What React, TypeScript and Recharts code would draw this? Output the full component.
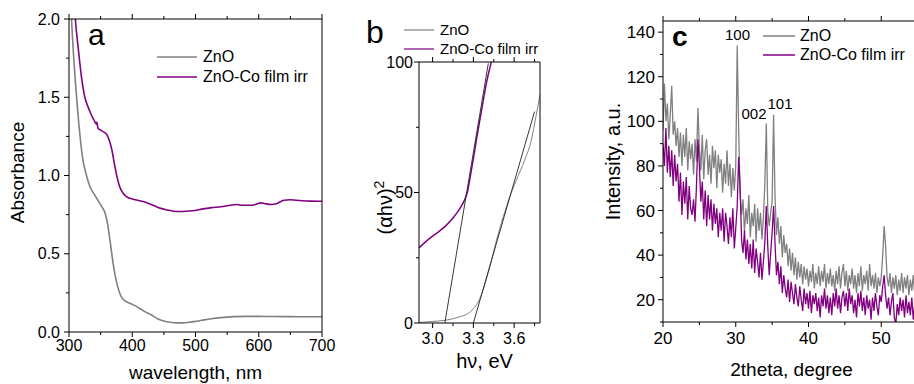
import { Label, Legend, Line, LineChart, ReferenceDot, XAxis, YAxis } from "recharts";

const GREY = "#808080";
const PURPLE = "#800080";
const FONT = '"Liberation Sans", Arial, sans-serif';

// (a) absorbance spectra
const WL_ZNO = [301, 304, 308, 312, 317, 322, 327, 333, 340, 346, 352, 357, 361, 365, 369, 373, 377, 382, 388, 395, 401, 410, 420, 430, 440, 450, 460, 470, 480, 490, 500, 510, 525, 540, 560, 580, 600, 620, 650, 680, 700];
const ABS_ZNO = [2.3, 2.0, 1.72, 1.5, 1.27, 1.1, 1.01, 0.93, 0.88, 0.84, 0.8, 0.76, 0.69, 0.58, 0.46, 0.36, 0.29, 0.23, 0.2, 0.185, 0.175, 0.155, 0.13, 0.11, 0.085, 0.07, 0.062, 0.058, 0.058, 0.062, 0.068, 0.075, 0.085, 0.092, 0.098, 0.1, 0.1, 0.099, 0.098, 0.097, 0.097];
const WL_CO = [307, 310, 315, 320, 325, 330, 335, 340, 343, 344, 346, 350, 356, 360, 364, 368, 372, 376, 380, 385, 391, 400, 410, 420, 433, 445, 455, 465, 480, 495, 510, 525, 540, 555, 565, 570, 580, 590, 597, 603, 610, 620, 628, 640, 650, 665, 680, 700];
const ABS_CO = [2.2, 2.0, 1.8, 1.62, 1.5, 1.44, 1.39, 1.35, 1.33, 1.34, 1.3, 1.29, 1.275, 1.26, 1.22, 1.16, 1.07, 0.99, 0.93, 0.89, 0.865, 0.85, 0.84, 0.83, 0.81, 0.79, 0.78, 0.772, 0.77, 0.775, 0.785, 0.795, 0.8, 0.81, 0.815, 0.812, 0.81, 0.81, 0.818, 0.825, 0.82, 0.815, 0.82, 0.842, 0.845, 0.84, 0.836, 0.835];

// (b) Tauc plot
const E_ZNO = [2.9, 3.0, 3.09, 3.2, 3.26, 3.3, 3.335, 3.37, 3.42, 3.47, 3.52, 3.567, 3.616, 3.677, 3.726, 3.76, 3.79];
const TAUC_ZNO = [0.2, 0.6, 1.0, 2.4, 3.6, 5.5, 8.0, 12.5, 21.5, 31.7, 40.7, 48.3, 54.7, 62.4, 70, 79, 87.5];
const E_CO = [2.9, 2.95, 3.0, 3.05, 3.1, 3.15, 3.2, 3.23, 3.255, 3.275, 3.3, 3.325, 3.35, 3.375, 3.4, 3.425, 3.45];
const TAUC_CO = [28.8, 31.2, 33.3, 35.2, 37.4, 40.2, 43.8, 46.6, 50, 55.5, 63, 71, 78.5, 86, 93, 98.5, 104];
const FIT_ZNO_E = [3.3, 3.75];
const FIT_ZNO_V = [0, 81];
const FIT_CO_E = [3.09, 3.41];
const FIT_CO_V = [0, 99.5];

// (c) XRD
const TWO_THETA = [
  20.0, 20.2, 20.4, 20.6, 20.8, 21.0, 21.2, 21.4, 21.6, 21.8,
  22.0, 22.2, 22.4, 22.6, 22.8, 23.0, 23.2, 23.4, 23.6, 23.8,
  24.0, 24.2, 24.4, 24.6, 24.8, 25.0, 25.2, 25.4, 25.6, 25.8,
  26.0, 26.2, 26.4, 26.6, 26.8, 27.0, 27.2, 27.4, 27.6, 27.8,
  28.0, 28.2, 28.4, 28.6, 28.8, 29.0, 29.2, 29.4, 29.6, 29.8,
  30.0, 30.2, 30.4, 30.6, 30.8, 31.0, 31.2, 31.4, 31.6, 31.8,
  32.0, 32.2, 32.4, 32.6, 32.8, 33.0, 33.2, 33.4, 33.6, 33.8,
  34.0, 34.2, 34.4, 34.6, 34.8, 35.0, 35.2, 35.4, 35.6, 35.8,
  36.0, 36.2, 36.4, 36.6, 36.8, 37.0, 37.2, 37.4, 37.6, 37.8,
  38.0, 38.2, 38.4, 38.6, 38.8, 39.0, 39.2, 39.4, 39.6, 39.8,
  40.0, 40.2, 40.4, 40.6, 40.8, 41.0, 41.2, 41.4, 41.6, 41.8,
  42.0, 42.2, 42.4, 42.6, 42.8, 43.0, 43.2, 43.4, 43.6, 43.8,
  44.0, 44.2, 44.4, 44.6, 44.8, 45.0, 45.2, 45.4, 45.6, 45.8,
  46.0, 46.2, 46.4, 46.6, 46.8, 47.0, 47.2, 47.4, 47.6, 47.8,
  48.0, 48.2, 48.4, 48.6, 48.8, 49.0, 49.2, 49.4, 49.6, 49.8,
  50.0, 50.2, 50.4, 50.6, 50.8, 51.0, 51.2, 51.4, 51.6, 51.8,
  52.0, 52.2, 52.4, 52.6, 52.8, 53.0, 53.2, 53.4, 53.6, 53.8,
  54.0, 54.2, 54.4, 54.6, 54.8, 55.0,
];
const XRD_ZNO = [
  96, 117, 100, 108, 92, 103, 116, 94, 100, 89,
  97, 84, 95, 80, 94, 84, 97, 78, 91, 83,
  90, 76, 92, 82, 106, 88, 78, 94, 74, 87,
  92, 76, 85, 72, 89, 79, 87, 70, 85, 77,
  83, 68, 81, 72, 87, 71, 81, 66, 79, 69,
  80, 134, 96, 68, 58, 65, 50, 61, 54, 67,
  48, 59, 53, 63, 46, 61, 51, 59, 47, 57,
  72, 99, 60, 53, 59, 64, 103, 66, 49, 57,
  45, 53, 39, 49, 41, 45, 35, 43, 33, 41,
  31, 39, 29, 37, 30, 36, 27, 35, 29, 34,
  26, 33, 28, 36, 25, 32, 27, 35, 26, 33,
  28, 36, 25, 32, 27, 34, 26, 31, 24, 33,
  27, 35, 25, 32, 36, 26, 33, 24, 31, 27,
  34, 25, 31, 23, 32, 26, 35, 24, 31, 27,
  33, 24, 36, 26, 31, 25, 32, 23, 30, 26,
  30, 40, 53, 44, 30, 26, 32, 23, 30, 25,
  31, 22, 29, 24, 32, 23, 30, 25, 31, 22,
  29, 24, 31, 23, 30, 26,
];
const XRD_CO = [
  90, 80, 97, 77, 89, 75, 87, 71, 85, 73,
  81, 64, 77, 58, 73, 63, 75, 56, 71, 61,
  58, 65, 55, 71, 92, 80, 64, 73, 56, 69,
  53, 67, 56, 65, 51, 63, 54, 61, 48, 59,
  51, 61, 46, 59, 53, 45, 57, 48, 61, 43,
  52, 62, 84, 70, 47, 41, 51, 38, 47, 36,
  45, 34, 47, 32, 43, 37, 30, 41, 29, 37,
  46, 62, 44, 31, 41, 50, 62, 45, 31, 37,
  27, 35, 23, 31, 25, 21, 29, 19, 28, 23,
  18, 27, 21, 17, 26, 20, 15, 25, 18, 23,
  16, 24, 14, 22, 18, 23, 15, 21, 12, 22,
  17, 25, 16, 22, 14, 21, 13, 23, 17, 25,
  16, 22, 14, 21, 24, 17, 23, 15, 25, 18,
  22, 14, 20, 12, 23, 17, 24, 15, 21, 13,
  22, 16, 20, 11, 21, 15, 23, 17, 13, 22,
  19, 26, 31, 22, 16, 21, 13, 19, 23, 12,
  9, 18, 13, 21, 15, 20, 12, 22, 14, 19,
  13, 21, 11, 18, 20, 16,
];

const pairs = (xs: number[], ys: number[]) => xs.map((x, i) => ({ x, y: ys[i] }));
const xrdRows = TWO_THETA.map((theta, i) => ({ theta, zno: XRD_ZNO[i], co: XRD_CO[i] }));

const TICK_SIZE = 5;
const MINOR_TICK = 3;

type Side = "bottom" | "top" | "left";

// draws major/minor tick marks itself so minor ones can be shorter
function axisTick(side: Side, majors: number[], margin: number, fontSize: number, digits = 0, labels = true) {
  return (props: any) => {
    const { x, y, payload } = props;
    const v = payload.value as number;
    const major = majors.some((m) => Math.abs(m - v) < 1e-6);
    const len = major ? TICK_SIZE : MINOR_TICK;
    const text = labels && major ? v.toFixed(digits) : null;
    if (side === "left") {
      const ax = x + TICK_SIZE + margin;
      return (
        <g>
          <line x1={ax} x2={ax - len} y1={y} y2={y} stroke="#000" />
          {text && (
            <text x={x} y={y} dy="0.355em" textAnchor="end" fontSize={fontSize} fill="#000">
              {text}
            </text>
          )}
        </g>
      );
    }
    if (side === "top") {
      const ay = y + TICK_SIZE + margin;
      return <line x1={x} x2={x} y1={ay} y2={ay - len} stroke="#000" />;
    }
    const ay = y - TICK_SIZE - margin;
    return (
      <g>
        <line x1={x} x2={x} y1={ay} y2={ay + len} stroke="#000" />
        {text && (
          <text x={x} y={y} dy="0.71em" textAnchor="middle" fontSize={fontSize} fill="#000">
            {text}
          </text>
        )}
      </g>
    );
  };
}

function legendRows(lineW: number, gap: number, rowH: number, fontSize: number, strokeW: number) {
  return (props: any) => (
    <div style={{ whiteSpace: "nowrap" }}>
      {(props.payload ?? [])
        .filter((p: any) => p.type !== "none")
        .map((p: any) => (
          <div key={p.value} style={{ display: "flex", alignItems: "center", height: rowH }}>
            <svg width={lineW} height={4} style={{ display: "block" }}>
              <line x1={0} x2={lineW} y1={2} y2={2} stroke={p.color} strokeWidth={strokeW} />
            </svg>
            <span style={{ marginLeft: gap, fontSize, lineHeight: `${rowH}px`, color: "#000" }}>{p.value}</span>
          </div>
        ))}
    </div>
  );
}

const WL_TICKS = [300, 350, 400, 450, 500, 550, 600, 650, 700];
const WL_MAJOR = [300, 400, 500, 600, 700];
const ABS_TICKS = [0, 0.25, 0.5, 0.75, 1, 1.25, 1.5, 1.75, 2];
const ABS_MAJOR = [0, 0.5, 1, 1.5, 2];

function PanelA() {
  return (
    <div style={{ position: "absolute", left: 0, top: 0 }}>
      <LineChart width={340} height={384} margin={{ top: 18, right: 17, bottom: 0, left: 0 }}>
        <XAxis xAxisId="b" type="number" dataKey="x" domain={[300, 700]} allowDataOverflow ticks={WL_TICKS} interval={0}
          height={52} stroke="#000" tickSize={TICK_SIZE} tickMargin={3} tickLine={false}
          tick={axisTick("bottom", WL_MAJOR, 3, 16)}>
          <Label value="wavelength, nm" position="insideBottom" offset={5} fontSize={19} fill="#000" />
        </XAxis>
        <XAxis xAxisId="t" orientation="top" type="number" dataKey="x" domain={[300, 700]} allowDataOverflow ticks={WL_TICKS}
          interval={0} height={1} stroke="#000" tickSize={TICK_SIZE} tickMargin={0} tickLine={false}
          tick={axisTick("top", WL_MAJOR, 0, 16, 0, false)} />
        <YAxis yAxisId="l" type="number" domain={[0, 2]} allowDataOverflow ticks={ABS_TICKS} interval={0} width={69}
          stroke="#000" tickSize={TICK_SIZE} tickMargin={4} tickLine={false} tick={axisTick("left", ABS_MAJOR, 4, 16, 1)}>
          <Label value="Absorbance" angle={-90} position="insideLeft" offset={17} dy={-3} fontSize={19} fill="#000"
            style={{ textAnchor: "middle" }} />
        </YAxis>
        <YAxis yAxisId="r" orientation="right" type="number" domain={[0, 2]} allowDataOverflow width={1} stroke="#000"
          tick={false} tickLine={false} />
        <Legend layout="vertical" align="center" verticalAlign="middle" content={legendRows(40, 6, 20, 16, 1.6)}
          wrapperStyle={{ left: 157, top: 47, width: "auto" }} />
        <Line xAxisId="b" yAxisId="l" name="ZnO" data={pairs(WL_ZNO, ABS_ZNO)} dataKey="y" type="monotone" stroke={GREY}
          strokeWidth={1.6} dot={false} activeDot={false} isAnimationActive={false} />
        <Line xAxisId="b" yAxisId="l" name="ZnO-Co film irr" data={pairs(WL_CO, ABS_CO)} dataKey="y" type="monotone"
          stroke={PURPLE} strokeWidth={1.6} dot={false} activeDot={false} isAnimationActive={false} />
      </LineChart>
    </div>
  );
}

const E_TICKS = [3.0, 3.15, 3.3, 3.45, 3.6, 3.75];
const E_MAJOR = [3.0, 3.3, 3.6];
const TAUC_TICKS = [0, 25, 50, 75, 100];
const TAUC_MAJOR = [0, 50, 100];

const TaucTitle = ({ viewBox }: any) => {
  const cx = viewBox.x + 45;
  const cy = viewBox.y + viewBox.height / 2 + 15;
  return (
    <text x={cx} y={cy} dy="0.355em" transform={`rotate(-90 ${cx} ${cy})`} textAnchor="middle" fontSize={20} fill="#000">
      (αhν)<tspan dy="-0.55em" fontSize={14}>2</tspan>
    </text>
  );
};

function PanelB() {
  return (
    <div style={{ position: "absolute", left: 340, top: 0 }}>
      <LineChart width={230} height={384} margin={{ top: 61, right: 29, bottom: 0, left: 0 }}>
        <XAxis xAxisId="b" type="number" dataKey="x" domain={[2.9, 3.79]} allowDataOverflow ticks={E_TICKS} interval={0}
          height={61} stroke="#000" tickSize={TICK_SIZE} tickMargin={5} tickLine={false}
          tick={axisTick("bottom", E_MAJOR, 5, 16, 1)}>
          <Label value="hν, eV" position="insideBottom" offset={16} dx={5} fontSize={20} fill="#000" />
        </XAxis>
        <XAxis xAxisId="t" orientation="top" type="number" dataKey="x" domain={[2.9, 3.79]} allowDataOverflow
          ticks={E_TICKS} interval={0} height={1} stroke="#000" tickSize={TICK_SIZE} tickMargin={0} tickLine={false}
          tick={axisTick("top", E_MAJOR, 0, 16, 1, false)} />
        <YAxis yAxisId="l" type="number" domain={[0, 100]} allowDataOverflow ticks={TAUC_TICKS} interval={0} width={79}
          stroke="#000" tickSize={TICK_SIZE} tickMargin={1} tickLine={false} tick={axisTick("left", TAUC_MAJOR, 1, 16)}>
          <Label content={<TaucTitle />} />
        </YAxis>
        <YAxis yAxisId="r" orientation="right" type="number" domain={[0, 100]} allowDataOverflow width={1} stroke="#000"
          tick={false} tickLine={false} />
        <Legend layout="vertical" align="center" verticalAlign="middle" content={legendRows(30, 6, 19, 15, 1.2)}
          wrapperStyle={{ left: 64, top: 20, width: "auto" }} />
        <Line xAxisId="b" yAxisId="l" name="ZnO" data={pairs(E_ZNO, TAUC_ZNO)} dataKey="y" type="monotone" stroke={GREY}
          strokeWidth={1} dot={false} activeDot={false} isAnimationActive={false} />
        <Line xAxisId="b" yAxisId="l" name="ZnO-Co film irr" data={pairs(E_CO, TAUC_CO)} dataKey="y" type="monotone"
          stroke={PURPLE} strokeWidth={1.5} dot={false} activeDot={false} isAnimationActive={false} />
        <Line xAxisId="b" yAxisId="l" name="fit ZnO" legendType="none" data={pairs(FIT_ZNO_E, FIT_ZNO_V)} dataKey="y"
          type="linear" stroke="#222" strokeWidth={0.9} dot={false} activeDot={false} isAnimationActive={false} />
        <Line xAxisId="b" yAxisId="l" name="fit ZnO-Co" legendType="none" data={pairs(FIT_CO_E, FIT_CO_V)} dataKey="y"
          type="linear" stroke="#222" strokeWidth={0.9} dot={false} activeDot={false} isAnimationActive={false} />
      </LineChart>
    </div>
  );
}

// only ticks up to 55 are inside the visible part of the window
const TT_TICKS = [20, 25, 30, 35, 40, 45, 50, 55];
const TT_MAJOR = [20, 30, 40, 50];
const INT_TICKS = [10, 20, 30, 40, 50, 60, 70, 80, 90, 100, 110, 120, 130, 140];
const INT_MAJOR = [20, 40, 60, 80, 100, 120, 140];
const PEAKS = [
  { label: "100", theta: 30.24, y: 138.7 },
  { label: "002", theta: 32.51, y: 103.3 },
  { label: "101", theta: 36.08, y: 107.8 },
];

function PanelC() {
  return (
    <div style={{ position: "absolute", left: 590, top: 0 }}>
      <LineChart width={370} height={384} data={xrdRows} margin={{ top: 20, right: 5, bottom: 0, left: 0 }}>
        <XAxis xAxisId="b" type="number" dataKey="theta" domain={[20, 60]} allowDataOverflow ticks={TT_TICKS} interval={0}
          height={62} stroke="#000" tickSize={TICK_SIZE} tickMargin={5} tickLine={false}
          tick={axisTick("bottom", TT_MAJOR, 5, 17)}>
          <Label value="2theta, degree" position="insideBottom" offset={8} dx={-17} fontSize={19} fill="#000" />
        </XAxis>
        <XAxis xAxisId="t" orientation="top" type="number" dataKey="theta" domain={[20, 60]} allowDataOverflow
          ticks={TT_TICKS} interval={0} height={1} stroke="#000" tickSize={TICK_SIZE} tickMargin={0} tickLine={false}
          tick={axisTick("top", TT_MAJOR, 0, 17, 0, false)} />
        <YAxis yAxisId="l" type="number" domain={[10, 145]} allowDataOverflow ticks={INT_TICKS} interval={0} width={73}
          stroke="#000" tickSize={TICK_SIZE} tickMargin={3} tickLine={false} tick={axisTick("left", INT_MAJOR, 3, 17)}>
          <Label value="Intensity, a.u." angle={-90} position="insideLeft" offset={23} dy={-10} fontSize={20} fill="#000"
            style={{ textAnchor: "middle" }} />
        </YAxis>
        <YAxis yAxisId="r" orientation="right" type="number" domain={[10, 145]} allowDataOverflow width={1} stroke="#000"
          tick={false} tickLine={false} />
        <Legend layout="vertical" align="center" verticalAlign="middle" content={legendRows(32, 5, 19, 16, 1.5)}
          wrapperStyle={{ left: 173, top: 26, width: "auto" }} />
        <Line xAxisId="b" yAxisId="l" name="ZnO" dataKey="zno" type="linear" stroke={GREY} strokeWidth={1.3} dot={false}
          activeDot={false} isAnimationActive={false} />
        <Line xAxisId="b" yAxisId="l" name="ZnO-Co film irr" dataKey="co" type="linear" stroke={PURPLE} strokeWidth={1.3}
          dot={false} activeDot={false} isAnimationActive={false} />
        {PEAKS.map((p) => (
          <ReferenceDot key={p.label} xAxisId="b" yAxisId="l" x={p.theta} y={p.y} r={1} fill="none" stroke="none"
            label={{ value: p.label, position: "center", fontSize: 15, fill: "#000" }} />
        ))}
      </LineChart>
    </div>
  );
}

const letter = (left: number, top: number, size: number, bold = false) => ({
  position: "absolute" as const,
  left,
  top,
  fontSize: size,
  lineHeight: 1,
  fontWeight: bold ? 700 : 400,
  color: "#000",
});

export default function App() {
  return (
    <>
      <style>{"body{margin:0}"}</style>
      <div style={{ position: "relative", width: 914, height: 384, overflow: "hidden", background: "#fff", fontFamily: FONT }}>
        <PanelA />
        <PanelB />
        <PanelC />
        <div style={letter(88, 20, 30)}>a</div>
        <div style={letter(366, 16, 32)}>b</div>
        <div style={letter(672, 23, 28, true)}>c</div>
      </div>
    </>
  );
}
